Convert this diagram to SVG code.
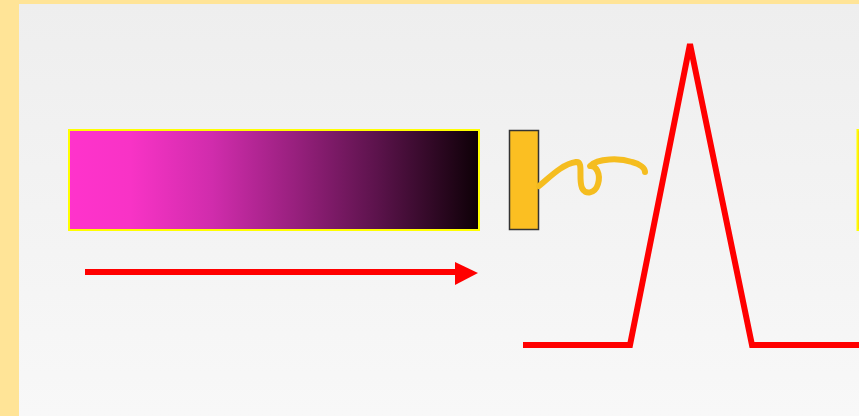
<svg xmlns="http://www.w3.org/2000/svg" width="859" height="416" viewBox="0 0 859 416">
<defs>
<linearGradient id="panel" x1="0" y1="0" x2="0" y2="1">
<stop offset="0" stop-color="#EEEEEE"/>
<stop offset="1" stop-color="#F8F8F8"/>
</linearGradient>
<linearGradient id="bar" x1="0" y1="0" x2="1" y2="0">
<stop offset="0" stop-color="#FF33CC"/>
<stop offset="0.15" stop-color="#F833C6"/>
<stop offset="0.35" stop-color="#D02CAC"/>
<stop offset="0.55" stop-color="#98207E"/>
<stop offset="0.75" stop-color="#5C134C"/>
<stop offset="1" stop-color="#0D0006"/>
</linearGradient>
<style>
.red{fill:none;stroke:#FF0000;stroke-width:6}
</style>
</defs>
<rect x="0" y="0" width="859" height="416" fill="#FFE497"/>
<rect x="19" y="4" width="840" height="412" fill="url(#panel)"/>
<g id="bar-node">
<rect x="69" y="130" width="410" height="100" fill="url(#bar)" stroke="#FFFF00" stroke-width="2"/>
</g>
<g id="block">
<rect x="509.5" y="130.5" width="29" height="99" fill="#FBBF22" stroke="#333333" stroke-width="1.5"/>
</g>
<g id="right-node">
<rect x="857.5" y="130" width="4" height="100" fill="#FBBF22" stroke="#FFFF00" stroke-width="2"/>
</g>
<g id="connectors">
<line x1="85" y1="272" x2="456" y2="272" class="red"/>
<path d="M455,262 L478,273 L455,285 Z" fill="#FF0000"/>
<path d="M539,186 C552,175 563,164 576,162 C584,161 578,178 582,188 C585,195 595,194 598,184 C601,174 596,165 590,166 C598,158 620,158 632,162 C640,164 645,168 645,172" fill="none" stroke="#F5BD1F" stroke-width="6" stroke-linecap="round" stroke-linejoin="round"/>
<polyline points="523,345 630,345 690,44 752,345 859,345" class="red"/>
</g>
</svg>
